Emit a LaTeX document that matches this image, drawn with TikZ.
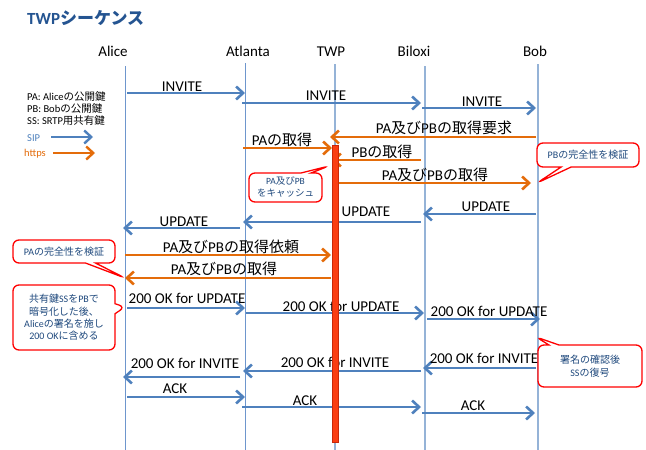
\documentclass[tikz,border=0pt]{standalone}
\usepackage{fontspec}
\setmainfont{Carlito}
\newfontfamily\jp{Noto Sans CJK JP}
\usetikzlibrary{arrows.meta,shapes.callouts}
\newcommand\J[1]{{\jp #1}}
\definecolor{sipblue}{RGB}{79,129,189}
\definecolor{httpsorange}{RGB}{228,108,10}
\definecolor{lifeblue}{RGB}{149,179,215}
\definecolor{lifedark}{RGB}{110,150,205}
\definecolor{barred}{RGB}{250,62,18}
\definecolor{bardark}{RGB}{200,40,10}
\definecolor{calred}{RGB}{255,0,0}
\definecolor{notetext}{RGB}{31,73,125}
\definecolor{titleblue}{RGB}{36,84,145}
\newcommand\msg[8]{%
  \coordinate (#1s) at (#2,#4); \coordinate (#1e) at (#3,#4);
  \draw[#5] (#1s) -- (#1e);
  \node[lbl] (#1l) at (#6,#7) {#8};}
\begin{document}
\begin{tikzpicture}[x=1pt,y=-1pt,
  lbl/.style={font=\fontsize{15}{18}\selectfont, inner sep=0pt, anchor=base},
  head/.style={font=\fontsize{15}{18}\selectfont, inner sep=0pt, anchor=base},
  sip/.style={draw=sipblue, line width=2.6pt, -{Straight Barb[length=7pt,width=13pt]}},
  https/.style={draw=httpsorange, line width=2.6pt, -{Straight Barb[length=7pt,width=13pt]}},
  life/.style={draw=lifeblue, line width=1.4pt},
  lifeA/.style={draw=lifedark, line width=1pt},
  note/.style={rectangle callout, draw=calred, fill=white, line width=1.3pt,
    rounded corners=6pt, text=notetext, font=\fontsize{10}{12.4}\selectfont,
    align=center, inner sep=0pt, callout pointer width=10pt},
  legtext/.style={font=\fontsize{10.5}{12}\selectfont, inner sep=0pt, anchor=base west}]
\useasboundingbox (0,0) rectangle (646,450);
\fill[white] (0,0) rectangle (646,450);

% title
\node[anchor=base west, inner sep=0pt, text=titleblue, font=\fontsize{17}{20}\selectfont\bfseries] (title) at (27,24) {TWP\J{シーケンス}};

% lifeline heads
\node[head] (hAlice) at (113,56) {Alice};
\node[head] (hAtl) at (248,56) {Atlanta};
\node[head] (hTWP) at (331,56) {TWP};
\node[head] (hBil) at (414,56) {Biloxi};
\node[head] (hBob) at (535,56) {Bob};

% lifelines
\coordinate (Atop) at (125,66); \coordinate (Abot) at (125,450);
\coordinate (Ttop) at (245,63); \coordinate (Tbot) at (245,450);
\coordinate (Wtop) at (335,64); \coordinate (Wbot) at (335,450);
\coordinate (Btop) at (425,66); \coordinate (Bbot) at (425,450);
\coordinate (Otop) at (538,64); \coordinate (Obot) at (538,450);
\draw[lifeA] (Atop) -- (Abot);
\draw[lifeA] (Ttop) -- (Tbot);
\draw[life] (Wtop) -- (Wbot);
\draw[life] (Btop) -- (Bbot);
\draw[life] (Otop) -- (Obot);

% legend
\node[legtext] (lPA) at (27,100) {PA: Alice\J{の公開鍵}};
\node[legtext] (lPB) at (27,112) {PB: Bob\J{の公開鍵}};
\node[legtext] (lSS) at (27,124) {SS: SRTP\J{用共有鍵}};
\node[legtext, text=sipblue] (lSIP) at (27,141) {SIP};
\node[legtext, text=httpsorange] (lHTTPS) at (24,156) {https};
\coordinate (ls1) at (51,137); \coordinate (ls2) at (93,137);
\coordinate (lh1) at (53,153); \coordinate (lh2) at (95,153);
\draw[sip, line width=2.4pt] (ls1) -- (ls2);
\draw[https, line width=2.4pt] (lh1) -- (lh2);

% messages
\msg{m1}{127}{245}{93}{sip}{182}{91}{INVITE}
\msg{m2}{242}{421}{103}{sip}{326}{100}{INVITE}
\msg{m3}{422}{536}{108}{sip}{482}{106}{INVITE}
\msg{m4}{536}{330}{137}{https}{444}{133}{PA\J{及び}PB\J{の取得要求}}
\msg{m5}{243}{332}{148}{https}{282}{145}{PA\J{の取得}}
\msg{m6}{421}{332}{160}{https}{382}{157}{PB\J{の取得}}
\msg{m7}{332}{531}{183}{https}{435}{180}{PA\J{及び}PB\J{の取得}}
\msg{m8}{536}{423}{214}{sip}{486}{211}{UPDATE}
\msg{m9}{421}{243}{222}{sip}{366}{216}{UPDATE}
\msg{m10}{240}{123}{228}{sip}{184}{226}{UPDATE}
\msg{m11}{125}{331}{255}{https}{231}{252}{PA\J{及び}PB\J{の取得依頼}}
\msg{m12}{331}{125}{278}{https}{224}{274}{PA\J{及び}PB\J{の取得}}
\msg{m13}{127}{245}{308}{sip}{187}{303}{200 OK for UPDATE}
\msg{m14}{246}{424}{313}{sip}{341}{311}{200 OK for UPDATE}
\msg{m15}{427}{540}{319}{sip}{489}{316}{200 OK for UPDATE}
\msg{m16}{536}{423}{368}{sip}{484}{363}{200 OK for INVITE}
\msg{m17}{421}{243}{371}{sip}{335}{367}{200 OK for INVITE}
\msg{m18}{240}{123}{377}{sip}{185}{368}{200 OK for INVITE}
\msg{m19}{127}{245}{397}{sip}{175}{393}{ACK}
\msg{m20}{242}{421}{407}{sip}{305}{405}{ACK}
\msg{m21}{422}{535}{413}{sip}{473}{410}{ACK}

% activation bar
\node[fill=barred, draw=bardark, line width=0.4pt, minimum width=6pt, minimum height=297pt, inner sep=0pt] (bar) at (335,293.5) {};

% callouts
\node[note, minimum width=102pt, minimum height=24pt, callout absolute pointer={(537,183)}] (n1) at (588,155) {PB\J{の完全性を検証}};
\node[note, minimum width=73pt, minimum height=29pt, font=\fontsize{9.5}{12}\selectfont, callout absolute pointer={(329,166)}] (n2) at (285.5,187.5) {PA\J{及び}PB\\\J{をキャッシュ}};
\node[note, minimum width=102pt, minimum height=23pt, callout absolute pointer={(125,278)}] (n3) at (64,251.5) {PA\J{の完全性を検証}};
\node[note, minimum width=102pt, minimum height=65pt, callout absolute pointer={(125,307)}] (n4) at (64,317.5) {\J{共有鍵}SS\J{を}PB\J{で}\\\J{暗号化した後、}\\Alice\J{の署名を施し}\\200 OK\J{に含める}};
\node[note, minimum width=104pt, minimum height=42pt, callout absolute pointer={(536,337)}] (n5) at (590,366) {\J{署名の確認後}\\SS\J{の復号}};
\end{tikzpicture}
\end{document}
